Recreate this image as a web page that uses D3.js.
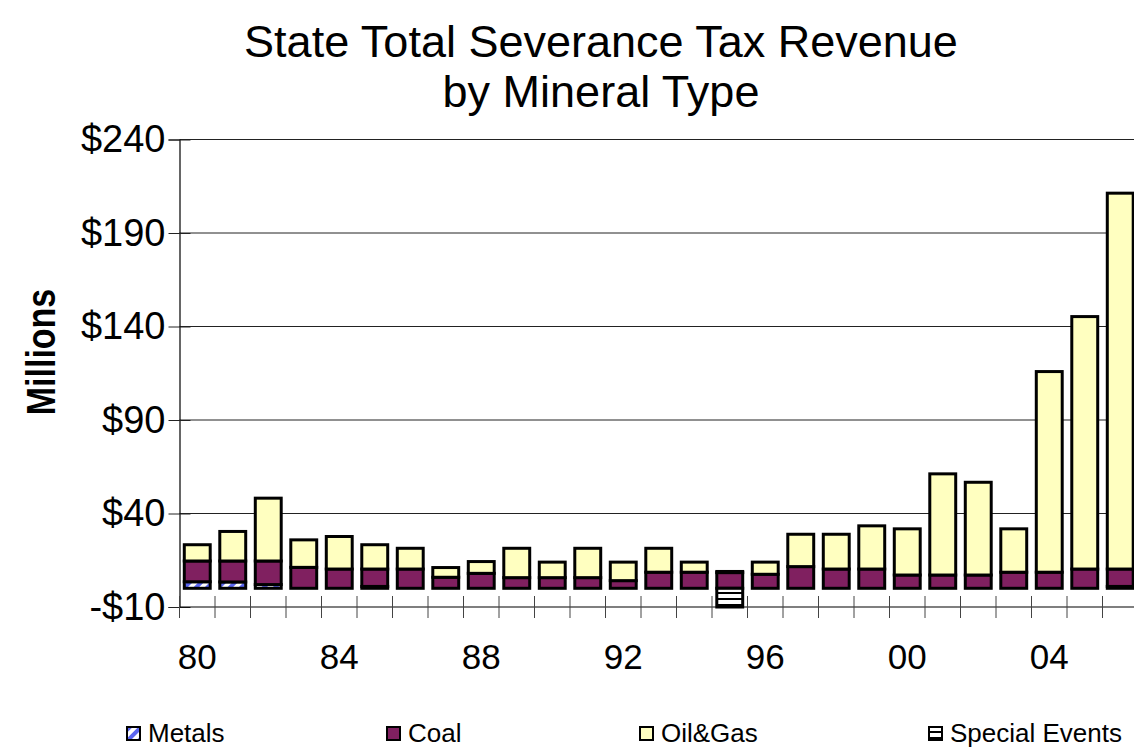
<!DOCTYPE html>
<html>
<head>
<meta charset="utf-8">
<script src="https://cdn.jsdelivr.net/npm/d3@7"></script>
<style>
  html, body { margin: 0; padding: 0; background: #fff; }
  svg { display: block; font-family: "Liberation Sans", Arial, sans-serif; }
</style>
</head>
<body>
<svg id="chart" width="1134" height="748"></svg>
<script>
// Fiscal years 1980–2006 (severance tax revenue, $ millions)
const years = d3.range(1980, 2007);
const metals = [3.5, 3.4, 2.0, 0, 0, 1.0, 0, 0, 0, 0, 0, 0, 0, 0, 0, 0, 0, 0, 0, 0, 0, 0, 0, 0, 0, 0, 1.0];
const coal = [11.1, 11.2, 12.6, 11.2, 10.3, 9.3, 10.3, 5.9, 8.0, 5.7, 5.7, 5.7, 4.1, 8.6, 8.6, 8.4, 7.5, 11.6, 10.3, 10.3, 7.1, 7.1, 7.1, 8.6, 8.6, 10.3, 9.3];
const oilGas = [8.7, 15.8, 33.6, 14.7, 17.4, 13.0, 11.1, 5.2, 6.3, 15.7, 8.3, 15.7, 9.9, 12.8, 5.4, 0.6, 6.5, 17.3, 18.6, 23.1, 24.7, 54.1, 49.6, 23.2, 107.3, 135.0, 201.0];
const specialEvents = [0, 0, 0, 0, 0, 0, 0, 0, 0, 0, 0, 0, 0, 0, 0, -10, 0, 0, 0, 0, 0, 0, 0, 0, 0, 0, 0];
const yTicks = [-10, 40, 90, 140, 190, 240];
const xLabelYears = [1980, 1984, 1988, 1992, 1996, 2000, 2004];
const seriesNames = ["Metals", "Coal", "Oil&Gas", "Special Events"];

const svg = d3.select("#chart");
const defs = svg.append("defs");

// Blue diagonal hatch for metals
const pm = defs.append("pattern").attr("id", "metalsPat")
  .attr("patternUnits", "userSpaceOnUse").attr("width", 8).attr("height", 8)
  .attr("patternTransform", "rotate(45)");
pm.append("rect").attr("width", 8).attr("height", 8).attr("fill", "#ffffff");
pm.append("rect").attr("width", 4).attr("height", 8).attr("fill", "#5b66f0");

// Horizontal black stripes for special events
const ps = defs.append("pattern").attr("id", "specialPat")
  .attr("patternUnits", "userSpaceOnUse").attr("width", 6).attr("height", 6);
ps.append("rect").attr("width", 6).attr("height", 6).attr("fill", "#ffffff");
ps.append("rect").attr("y", 4).attr("width", 6).attr("height", 2).attr("fill", "#000000");

const fills = {
  "Metals": "url(#metalsPat)",
  "Coal": "#802060",
  "Oil&Gas": "#ffffc0",
  "Special Events": "url(#specialPat)"
};

const plotLeft = 179.5, plotRight = 1138;
const x = d3.scaleBand().domain(years).range([plotLeft, plotRight]).paddingInner(0.27).paddingOuter(0.135);
const y = d3.scaleLinear().domain([-10, 240]).range([607, 139.5]);

// Horizontal gridlines
svg.append("g").selectAll("line").data(yTicks.filter(d => d > -10)).join("line")
  .attr("x1", plotLeft).attr("x2", plotRight)
  .attr("y1", d => y(d)).attr("y2", d => y(d))
  .attr("stroke", "#222").attr("stroke-width", 1);

// Bars: metals, coal and oil&gas stacked upward from zero; special events below zero
const rows = years.map((yr, i) => ({
  year: yr, Metals: metals[i], Coal: coal[i], "Oil&Gas": oilGas[i], "Special Events": specialEvents[i]
}));
const stacked = d3.stack().keys(["Metals", "Coal", "Oil&Gas"])(rows);

const barG = svg.append("g");
stacked.forEach(layer => {
  barG.append("g").selectAll("rect")
    .data(layer.filter(d => d[1] - d[0] > 0))
    .join("rect")
    .attr("x", d => x(d.data.year))
    .attr("width", x.bandwidth())
    .attr("y", d => y(d[1]))
    .attr("height", d => y(d[0]) - y(d[1]))
    .attr("fill", fills[layer.key])
    .attr("stroke", "#000").attr("stroke-width", 3);
});
barG.append("g").selectAll("rect")
  .data(rows.filter(d => d["Special Events"] < 0))
  .join("rect")
  .attr("x", d => x(d.year))
  .attr("width", x.bandwidth())
  .attr("y", y(0))
  .attr("height", d => y(d["Special Events"]) - y(0))
  .attr("fill", fills["Special Events"])
  .attr("stroke", "#000").attr("stroke-width", 3);

// Y axis
const yAxis = svg.append("g").attr("transform", `translate(${plotLeft},0)`)
  .call(d3.axisLeft(y).tickValues(yTicks).tickSize(11).tickPadding(4)
    .tickFormat(d => (d < 0 ? "-$" : "$") + Math.abs(d)));
yAxis.select(".domain").attr("stroke", "#000").attr("stroke-width", 1.2);
yAxis.selectAll(".tick line").attr("x2", -11).attr("x1", 11).attr("stroke", "#222");
yAxis.selectAll(".tick text").attr("font-size", 38).attr("fill", "#000")
  .attr("font-family", "'Liberation Sans', Arial, sans-serif").attr("x", -14);

// Category axis at the bottom of the value range
const xg = svg.append("g");
xg.append("line").attr("x1", plotLeft).attr("x2", plotRight)
  .attr("y1", y(-10)).attr("y2", y(-10)).attr("stroke", "#000").attr("stroke-width", 1.2);
const step = x.step();
xg.selectAll("line.tk").data(d3.range(years.length + 1)).join("line").attr("class", "tk")
  .attr("x1", i => plotLeft + i * step).attr("x2", i => plotLeft + i * step)
  .attr("y1", y(-10) - 11).attr("y2", y(-10) + 11)
  .attr("stroke", "#444").attr("stroke-width", 1);
xg.selectAll("text").data(xLabelYears).join("text")
  .attr("x", d => x(d) + x.bandwidth() / 2)
  .attr("y", 669)
  .attr("text-anchor", "middle")
  .attr("font-size", 35)
  .text(d => String(d % 100).padStart(2, "0"));

// Title
const title = svg.append("text").attr("text-anchor", "middle").attr("font-size", 45).attr("fill", "#000");
title.append("tspan").attr("x", 601).attr("y", 57).text("State Total Severance Tax Revenue");
title.append("tspan").attr("x", 601).attr("y", 107).text("by Mineral Type");

// Axis title
svg.append("text")
  .attr("transform", "translate(55,352) rotate(-90) scale(0.85,1)")
  .attr("text-anchor", "middle").attr("font-size", 40).attr("font-weight", "bold")
  .text("Millions");

// Legend
const legendX = [127, 387, 640, 929];
const lg = svg.append("g").selectAll("g").data(seriesNames).join("g")
  .attr("transform", (d, i) => `translate(${legendX[i]},727)`);
lg.append("rect").attr("width", 13).attr("height", 13)
  .attr("fill", d => fills[d]).attr("stroke", "#000").attr("stroke-width", 2);
lg.append("text").attr("x", 21).attr("y", 15).attr("font-size", 26).text(d => d);
</script>
</body>
</html>
